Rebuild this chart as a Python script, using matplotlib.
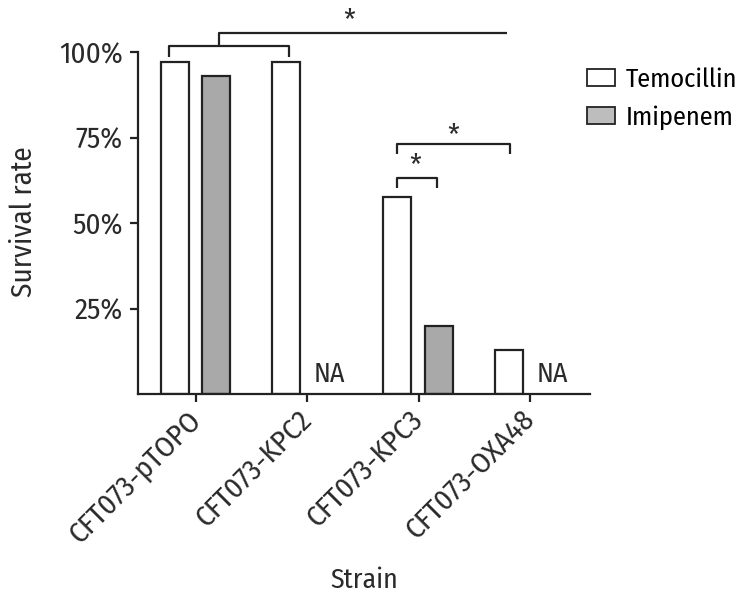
import matplotlib
matplotlib.use("Agg")
import matplotlib.pyplot as plt
import numpy as np
from matplotlib.patches import Patch

strains = ["CFT073-pTOPO", "CFT073-KPC2", "CFT073-KPC3", "CFT073-OXA48"]
temocillin = [97, 97, 57.5, 13]
imipenem = [93, np.nan, 20, np.nan]
y_ticks = [25, 50, 75, 100]
y_ticklabels = ["25%", "50%", "75%", "100%"]

FONT = ["Fira Sans Condensed", "DejaVu Sans"]
plt.rcParams['font.family'] = FONT

TXT = "#2a2a2a"
FS = 21
fig = plt.figure(figsize=(7.42, 5.93), dpi=100)
ax = fig.add_axes([138/742, 1-394/593, (590-138)/742, (394-52)/593])

x = np.arange(len(strains))
w = 0.25
off_t, off_i = -0.19, 0.18
lw = 1.6
ax.bar(x + off_t, temocillin, w, color="white", edgecolor="#222222", linewidth=lw, label="Temocillin")
ax.bar(x + off_i, imipenem, w, color="#a9a9a9", edgecolor="#222222", linewidth=lw, label="Imipenem")

for i, v in enumerate(imipenem):
    if np.isnan(v):
        ax.text(x[i] + off_i + 0.02, 1.8, "NA", ha="center", va="bottom", fontsize=20, color=TXT)

ax.set_xlim(-0.52, 3.54)
ax.set_ylim(0, 100)
ax.set_yticks(y_ticks)
ax.set_yticklabels(y_ticklabels, fontsize=FS, color=TXT)
ax.set_xticks(x)
ax.set_xticklabels(strains, rotation=45, ha="right", va="center", rotation_mode="anchor",
                   fontsize=FS, color=TXT)
for s in ["top", "right"]:
    ax.spines[s].set_visible(False)
for s in ["left", "bottom"]:
    ax.spines[s].set_linewidth(lw)
    ax.spines[s].set_color("#222222")
ax.tick_params(axis="both", length=6, width=lw, color="#222222")
ax.tick_params(axis="y", pad=5)
ax.tick_params(axis="x", pad=9)
fig.text(24/742, 1-222/593, "Survival rate", rotation=90, ha="center", va="center",
         fontsize=FS, color=TXT)
fig.text(364/742, 1-588/593, "Strain", ha="center", va="baseline", fontsize=20, color=TXT)

def line(xs, ys):
    ax.plot(xs, ys, color="#222222", lw=lw, clip_on=False, solid_capstyle="butt")

# top bracket
line([-0.24, -0.24, 0.84, 0.84], [98.6, 101.9, 101.9, 98.6])
line([0.207, 0.207, 2.79], [101.9, 105.5, 105.5])
ax.text(1.38, 109.0, "*", ha="center", va="center", fontsize=FS, color=TXT)
# KPC3 vs OXA48
line([1.81, 1.81, 2.82, 2.82], [70.2, 73.1, 73.1, 70.2])
ax.text(2.31, 75.5, "*", ha="center", va="center", fontsize=FS, color=TXT)
# KPC3 temo vs imi
line([1.81, 1.81, 2.17, 2.17], [60.3, 63.2, 63.2, 60.3])
ax.text(1.97, 66.7, "*", ha="center", va="center", fontsize=FS, color=TXT)

handles = [Patch(facecolor="white", edgecolor="#222222", linewidth=1.3),
           Patch(facecolor="#bdbdbd", edgecolor="#222222", linewidth=1.3)]
fig.legend(handles, ["Temocillin", "Imipenem"], loc="upper left",
           bbox_to_anchor=(587/742, 1-67/593), frameon=False, fontsize=19,
           handlelength=1.05, handleheight=0.65, handletextpad=0.4, labelspacing=0.5,
           borderaxespad=0, borderpad=0)

fig.savefig("out.png", dpi=100)
